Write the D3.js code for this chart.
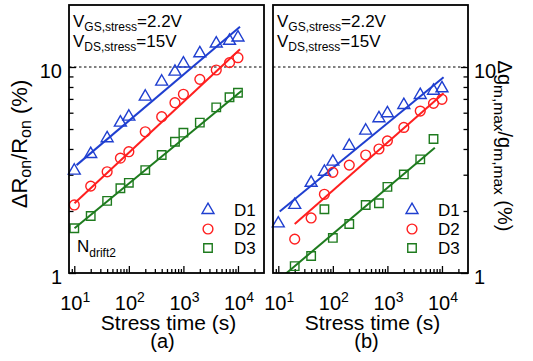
<!DOCTYPE html>
<html>
<head>
<meta charset="utf-8">
<script src="https://cdn.jsdelivr.net/npm/d3@7"></script>
<style>
  body { margin: 0; background: #fff; }
  svg { display: block; }
  text { font-family: "Liberation Sans", Arial, Helvetica, sans-serif; fill: #000; }
</style>
</head>
<body>
<svg id="chart" width="533" height="361"></svg>
<script>
// Stress times (s)
const times = [10, 20, 40, 70, 100, 200, 400, 700, 1000, 2000, 4000, 7000, 10000];

// (a) Delta R_on / R_on (%)
const ronD1 = [3.14, 3.78, 4.51, 5.37, 5.74, 7.18, 8.49, 9.49, 10.4, 11.65, 13.0, 13.4, 13.9];
const ronD2 = [2.14, 2.64, 3.10, 3.61, 3.88, 4.85, 5.74, 6.71, 7.37, 8.71, 9.67, 10.5, 11.1];
const ronD3 = [1.65, 1.89, 2.24, 2.58, 2.74, 3.16, 3.74, 4.34, 4.80, 5.37, 6.37, 7.13, 7.50];

// (b) Delta g_m,max / g_m,max (%)
const gmTimesD1 = [10, 20, 40, 70, 100, 200, 400, 700, 1000, 2000, 4000, 7000, 10000];
const gmD1 = [1.74, 2.14, 2.74, 3.10, 3.47, 4.14, 4.91, 5.64, 5.96, 6.54, 7.31, 7.67, 7.88];
const gmTimesD2 = [20, 40, 70, 100, 200, 400, 700, 1000, 2000, 4000, 7000, 10000];
const gmD2 = [1.46, 1.85, 2.41, 3.08, 3.34, 3.74, 4.00, 4.38, 5.09, 6.11, 6.66, 6.97];
const gmTimesD3 = [20, 40, 70, 100, 200, 400, 700, 1000, 2000, 4000, 7000];
const gmD3 = [1.08, 1.21, 2.04, 1.48, 1.73, 2.14, 2.18, 2.62, 3.01, 3.56, 4.47];

// Power-law fit lines, given by their end points [time, value]
const ronFitD1 = [[11, 3.34], [10900, 15.7]];
const ronFitD2 = [[10.1, 2.18], [10900, 12.2]];
const ronFitD3 = [[10.1, 1.65], [11700, 7.67]];
const gmFitD1 = [[10.6, 1.99], [10700, 8.91]];
const gmFitD2 = [[20, 1.73], [10700, 7.45]];
const gmFitD3 = [[13, 0.98], [7400, 4.06]];

// Axis tick values and labels
const xMajor = [10, 100, 1000, 10000];
const xMajorExp = ["1", "2", "3", "4"];
const yMajor = [1, 10];
const yMajorLabels = ["1", "10"];
const seriesNames = ["D1", "D2", "D3"];

const colors = ["#1f3fd0", "#ff1f1f", "#1e7b1e"];
const shapes = ["triangle", "circle", "square"];

const svg = d3.select("#chart");
const plotTop = 5, plotBottom = 273;

function minorTicks(domain) {
  const out = [];
  for (let e = -1; e <= 5; e++) {
    for (let m = 2; m <= 9; m++) {
      const v = m * Math.pow(10, e);
      if (v > domain[0] && v < domain[1]) out.push(v);
    }
  }
  return out;
}

function marker(g, shape, x, y, color) {
  if (shape === "circle") {
    g.append("circle").attr("cx", x).attr("cy", y).attr("r", 4.9)
      .attr("fill", "none").attr("stroke", color).attr("stroke-width", 1.4);
  } else {
    const sym = shape === "triangle" ? d3.symbolTriangle : d3.symbolSquare;
    const size = shape === "triangle" ? 62 : 72;
    g.append("path").attr("d", d3.symbol().type(sym).size(size)())
      .attr("transform", `translate(${x},${y})`)
      .attr("fill", "none").attr("stroke", color).attr("stroke-width", 1.4);
  }
}

function panel(opts) {
  const x = d3.scaleLog().domain([8, 30000]).range([opts.x0, opts.x1]);
  const y = d3.scaleLog().domain([1, 20]).range([plotBottom, plotTop]);
  const g = svg.append("g");
  const clipId = "clip" + opts.id;
  svg.append("clipPath").attr("id", clipId).append("rect")
    .attr("x", opts.x0).attr("y", plotTop)
    .attr("width", opts.x1 - opts.x0).attr("height", plotBottom - plotTop);

  // 10 % reference line
  g.append("line").attr("x1", opts.x0).attr("x2", opts.x1)
    .attr("y1", y(10)).attr("y2", y(10))
    .attr("stroke", "#000").attr("stroke-width", 1).attr("stroke-dasharray", "2.5,2.5");

  // bottom axis: major + minor ticks pointing inward
  const axMaj = d3.axisBottom(x).tickValues(xMajor).tickSize(-7).tickFormat("");
  const axMin = d3.axisBottom(x).tickValues(minorTicks(x.domain())).tickSize(-4).tickFormat("");
  [axMaj, axMin].forEach(ax => {
    const a = g.append("g").attr("transform", `translate(0,${plotBottom})`).call(ax);
    a.select(".domain").remove();
    a.selectAll("line").attr("stroke", "#000").attr("stroke-width", 1.3);
  });

  // vertical axis ticks on the chosen side
  const yAx = opts.side === "left" ? d3.axisLeft : d3.axisRight;
  const yx = opts.side === "left" ? opts.x0 : opts.x1;
  const yMaj = yAx(y).tickValues(yMajor).tickSize(-7).tickFormat("");
  const yMin = yAx(y).tickValues(minorTicks(y.domain())).tickSize(-4.5).tickFormat("");
  [yMaj, yMin].forEach(ax => {
    const a = g.append("g").attr("transform", `translate(${yx},0)`).call(ax);
    a.select(".domain").remove();
    a.selectAll("line").attr("stroke", "#000").attr("stroke-width", 1.3);
  });

  // x tick labels: 10 with superscript exponent
  xMajor.forEach((v, i) => {
    const t = g.append("text").attr("x", x(v) + 1).attr("y", 310)
      .attr("text-anchor", "middle").attr("font-size", 20);
    t.append("tspan").text("10");
    t.append("tspan").attr("font-size", 14).attr("dy", -8).text(xMajorExp[i]);
  });

  // y tick labels
  yMajor.forEach((v, i) => {
    g.append("text")
      .attr("x", opts.side === "left" ? opts.x0 - 7 : opts.x1 + 6)
      .attr("y", y(v) + 11)
      .attr("text-anchor", opts.side === "left" ? "end" : "start")
      .attr("font-size", 20).text(yMajorLabels[i]);
  });

  // fit lines
  const line = d3.line().x(d => x(d[0])).y(d => y(d[1]));
  opts.fits.forEach((f, i) => {
    g.append("path").attr("d", line(f)).attr("clip-path", `url(#${clipId})`)
      .attr("fill", "none").attr("stroke", colors[i]).attr("stroke-width", 2);
  });

  // data markers
  opts.series.forEach((s, i) => {
    s.t.forEach((tv, k) => marker(g, shapes[i], x(tv), y(s.v[k]), colors[i]));
  });

  // frame
  g.append("rect").attr("x", opts.x0).attr("y", plotTop)
    .attr("width", opts.x1 - opts.x0).attr("height", plotBottom - plotTop)
    .attr("fill", "none").attr("stroke", "#000").attr("stroke-width", 1.8);

  // stress condition annotation
  const ax0 = opts.x0 + 4;
  [["GS,stress", "=2.2V", 27], ["DS,stress", "=15V", 47]].forEach(([sub, rest, by]) => {
    const t = g.append("text").attr("x", ax0).attr("y", by).attr("font-size", 17);
    t.append("tspan").text("V");
    t.append("tspan").attr("font-size", 12).attr("dy", 4).text(sub);
    t.append("tspan").attr("dy", -4).text(rest);
  });

  // legend
  seriesNames.forEach((name, i) => {
    const ly = 210 + i * 19;
    marker(g, shapes[i], opts.legX, ly, colors[i]);
    g.append("text").attr("x", opts.legX + 26).attr("y", ly + 6)
      .attr("font-size", 17).text(name);
  });

  // axis titles
  const cx = (opts.x0 + opts.x1) / 2;
  g.append("text").attr("x", cx + 2).attr("y", 330).attr("text-anchor", "middle")
    .attr("font-size", 21).text("Stress time (s)");
  g.append("text").attr("x", cx - 4).attr("y", 348).attr("text-anchor", "middle")
    .attr("font-size", 20).text(opts.tag);
  return g;
}

const ga = panel({
  id: "a", x0: 69, x1: 264, side: "left", legX: 208, tag: "(a)",
  series: [{ t: times, v: ronD1 }, { t: times, v: ronD2 }, { t: times, v: ronD3 }],
  fits: [ronFitD1, ronFitD2, ronFitD3]
});
const gb = panel({
  id: "b", x0: 273, x1: 468, side: "right", legX: 412, tag: "(b)",
  series: [{ t: gmTimesD1, v: gmD1 }, { t: gmTimesD2, v: gmD2 }, { t: gmTimesD3, v: gmD3 }],
  fits: [gmFitD1, gmFitD2, gmFitD3]
});

// N_drift2 label in panel (a)
const nd = ga.append("text").attr("x", 77).attr("y", 252).attr("font-size", 17);
nd.append("tspan").text("N");
nd.append("tspan").attr("font-size", 12).attr("dy", 5).text("drift2");

// y-axis titles
const ya = svg.append("text").attr("transform", "translate(27,144) rotate(-90)")
  .attr("text-anchor", "middle").attr("font-size", 22);
ya.append("tspan").text("\u0394R");
ya.append("tspan").attr("font-size", 16).attr("dy", 4).text("on");
ya.append("tspan").attr("dy", -4).text("/R");
ya.append("tspan").attr("font-size", 16).attr("dy", 4).text("on");
ya.append("tspan").attr("dy", -4).text(" (%)");

const yb = svg.append("text").attr("transform", "translate(498,146) rotate(90)")
  .attr("text-anchor", "middle").attr("font-size", 20);
yb.append("tspan").text("\u0394g");
yb.append("tspan").attr("font-size", 15.5).attr("dy", 4).text("m,max");
yb.append("tspan").attr("dy", -4).text("/g");
yb.append("tspan").attr("font-size", 15.5).attr("dy", 4).text("m,max");
yb.append("tspan").attr("dy", -4).text(" (%)");
</script>
</body>
</html>
